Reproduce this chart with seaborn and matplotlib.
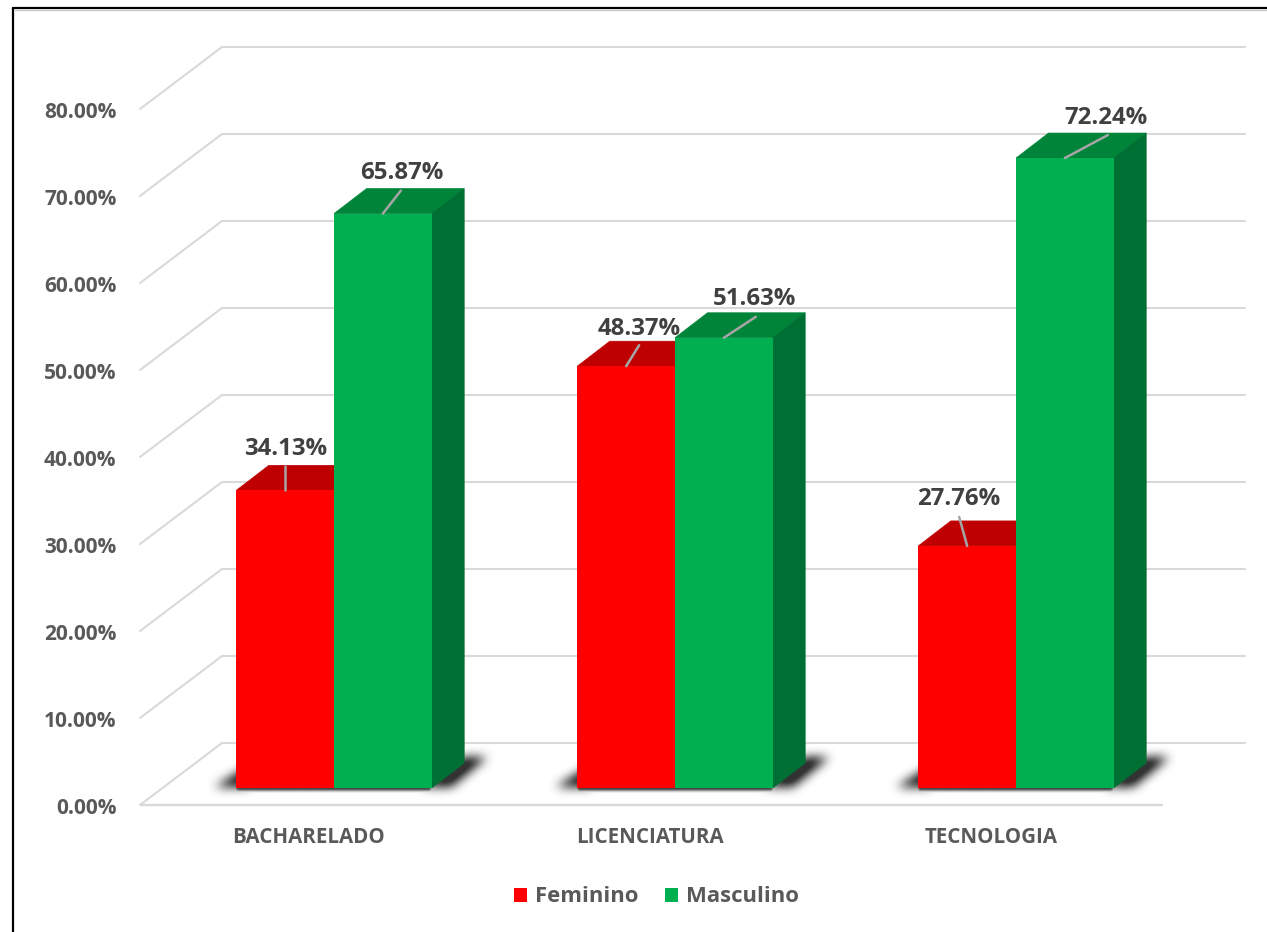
import pandas as pd
import numpy as np
import matplotlib.pyplot as plt
import seaborn as sns
from matplotlib.lines import Line2D
from matplotlib.patches import Polygon
from matplotlib.path import Path

categories = ["BACHARELADO", "LICENCIATURA", "TECNOLOGIA"]
feminino = [34.13, 48.37, 27.76]
masculino = [65.87, 51.63, 72.24]
y_values = [0, 10, 20, 30, 40, 50, 60, 70, 80]
series_names = ["Feminino", "Masculino"]

# === Pixel scale of the picture ===
W, H = 1267, 932
PX_X = 341.0    # pixels per category
PX_Y = 8.72     # pixels per percent
X0_PX, Y0_PX = 334, 788
LEFT_PX, BOTTOM_PX = 140, 822
WALL_SCALE = 8.7 / PX_Y   # the walls run a little tighter than the bars

sns.set_theme(style="white")
plt.rcParams['font.family'] = ['Open Sans', 'DejaVu Sans']

df = pd.DataFrame({
    "curso": categories * 2,
    "sexo": [series_names[0]] * 3 + [series_names[1]] * 3,
    "valor": feminino + masculino,
})

fig = plt.figure(figsize=(W / 100, H / 100), dpi=100, facecolor="white")
ax = fig.add_axes([LEFT_PX / W, 1 - BOTTOM_PX / H, (W - LEFT_PX) / W, BOTTOM_PX / H])

colors = {"Feminino": "#FF0000", "Masculino": "#00B050"}
tops = {"Feminino": "#BF0000", "Masculino": "#008439"}
sides = {"Feminino": "#9F0000", "Masculino": "#006F33"}

sns.barplot(data=df, x="curso", y="valor", hue="sexo", hue_order=series_names,
            palette=colors, width=0.573, gap=0, saturation=1, linewidth=0,
            zorder=5, ax=ax)

ax.set_xlabel("")
ax.set_ylabel("")
for s in ax.spines.values():
    s.set_visible(False)


def dx(px):
    return px / PX_X


def dy(px):
    # pixels going up the picture
    return px / PX_Y


def blur(a, size):
    # three box passes along each axis, close enough to a gaussian
    kernel = np.ones(size) / size
    for _ in range(3):
        a = np.apply_along_axis(lambda r: np.convolve(r, kernel, mode="same"), 0, a)
        a = np.apply_along_axis(lambda r: np.convolve(r, kernel, mode="same"), 1, a)
    return a


xlim = ((LEFT_PX - X0_PX) / PX_X, (W - X0_PX) / PX_X)
ylim = ((Y0_PX - BOTTOM_PX) / PX_Y, Y0_PX / PX_Y)

# === Walls and floor ===
floor = dy(-17)
wall_dx, wall_dy = dx(82), dy(62)
x_left = xlim[0]
grid_c = "#D9D9D9"
for v in y_values:
    yv = v * WALL_SCALE + floor
    ax.plot([x_left, x_left + wall_dx, dx(1245 - X0_PX)],
            [yv, yv + wall_dy, yv + wall_dy],
            color=grid_c, lw=1.5, zorder=1, clip_on=False)
ax.plot([x_left, dx(1162 - X0_PX)], [floor, floor], color=grid_c, lw=1.7, zorder=1)

ax.set_yticks([v * WALL_SCALE + floor - dy(1) for v in y_values], [f"{v:.2f}%" for v in y_values])
ax.set_xticks([i - dx(25) for i in range(len(categories))], categories)
ax.tick_params(axis="y", length=0, pad=17, labelsize=15, labelcolor="#595959")
ax.tick_params(axis="x", length=0, pad=3.5, labelsize=14.8, labelcolor="#595959")
for t in ax.get_xticklabels() + ax.get_yticklabels():
    t.set_fontweight("bold")

# === Soft shadow on the floor, one blurred image per group ===
depth_x, depth_y = dx(32.5), dy(25)
for bf, bm in zip(ax.containers[0], ax.containers[1]):
    L = bf.get_x()
    R = bm.get_x() + bm.get_width()
    wedges = [
        [(L - dx(24), dy(-1)), (L + dx(12), dy(21)), (L + dx(12), dy(-1))],
        [(R - dx(12), dy(-1)), (R + dx(30), dy(29)), (R + dx(54), dy(29)), (R + dx(18), dy(-1))],
    ]
    gx = L + dx(np.arange(-70, (R - L) * PX_X + 110))
    gy = dy(np.arange(-40, 70))
    xx, yy = np.meshgrid(gx, gy)
    pts = np.column_stack([xx.ravel(), yy.ravel()])
    soft = np.zeros(xx.shape)
    for shape in wedges:
        soft = np.maximum(soft, Path(shape).contains_points(pts).reshape(xx.shape).astype(float))
    strip = Path([(L, dy(-3)), (R, dy(-3)), (R, dy(1)), (L, dy(1))])
    thin = strip.contains_points(pts).reshape(xx.shape).astype(float)
    mask = np.maximum(blur(soft, 10), blur(thin, 3) * 0.9)
    rgba = np.zeros(mask.shape + (4,))
    rgba[..., :3] = 0.2
    rgba[..., 3] = np.clip(mask * 1.25, 0, 1)
    ax.imshow(rgba, extent=(gx[0], gx[-1], gy[0], gy[-1]), origin="lower", aspect="auto",
              interpolation="bilinear", zorder=2)

ax.set_xlim(xlim)
ax.set_ylim(ylim)

# === Depth faces of the bars ===
for name, bars in zip(series_names, ax.containers):
    for b in bars:
        x0 = b.get_x()
        x1 = x0 + b.get_width()
        h = b.get_height()
        ax.add_patch(Polygon([(x0, h), (x1, h), (x1 + depth_x, h + depth_y), (x0 + depth_x, h + depth_y)],
                             closed=True, fc=tops[name], ec=tops[name], lw=0.5, zorder=3))
        ax.add_patch(Polygon([(x1, 0), (x1 + depth_x, depth_y), (x1 + depth_x, h + depth_y), (x1, h)],
                             closed=True, fc=sides[name], ec=sides[name], lw=0.5, zorder=3))

# === Data labels and leader lines (offsets in pixels from the bar top) ===
label_off = [[(0, 41), (13, 37), (-8, 47)], [(19, 41), (31, 39), (41, 40)]]
leader_off = [[(0, 24), (13, 21), (-8, 29)], [(18, 23), (32, 21), (43, 23)]]
for bars, labs, leads in zip(ax.containers, label_off, leader_off):
    for b, lab, lead in zip(bars, labs, leads):
        cx = b.get_x() + b.get_width() / 2
        h = b.get_height()
        ax.plot([cx, cx + dx(lead[0])], [h, h + dy(lead[1])], color="#A6A6A6", lw=1.8, zorder=6)
        ax.text(cx + dx(lab[0]), h + dy(lab[1]), f"{h:.2f}%", ha="center", va="center",
                fontsize=17.3, fontweight="bold", color="#404040", zorder=7)

# === Legend ===
handles, labels = ax.get_legend_handles_labels()
ax.legend(handles, labels, loc="center", ncol=2, frameon=False,
          bbox_to_anchor=(656.5 / W, 1 - 897 / H), bbox_transform=fig.transFigure,
          prop={"size": 15.9, "weight": "bold"}, labelcolor="#595959",
          handlelength=0.6, handleheight=0.6, handletextpad=0.35, columnspacing=1.2,
          borderpad=0)

# === Outer frame ===
fx, fy = 13 / W, 1 - 8 / H
fig.add_artist(Line2D([fx, fx], [0, fy], color="black", lw=1.6))
fig.add_artist(Line2D([fx, 1], [fy, fy], color="black", lw=1.6))
fig.add_artist(Line2D([fx + 2 / W, 1], [fy - 2 / H, fy - 2 / H], color="#C8C8C8", lw=1))

fig.savefig("out.png", dpi=100)
plt.close(fig)
